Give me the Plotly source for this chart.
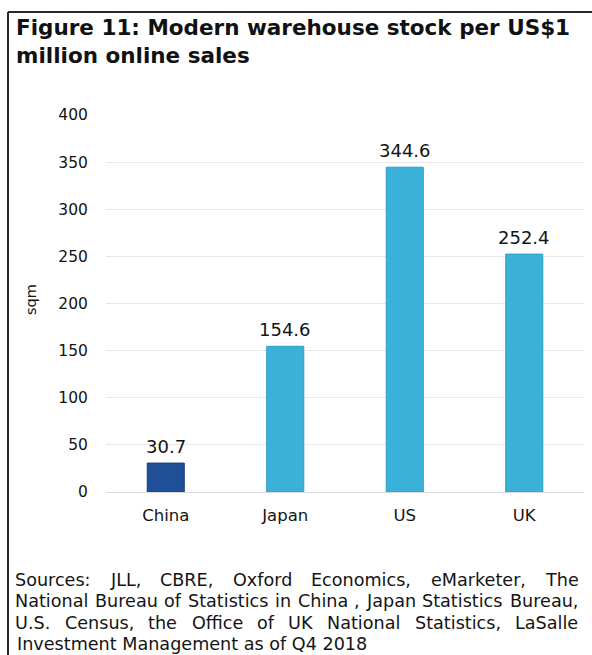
import plotly.graph_objects as go

# Chart data
countries = ["China", "Japan", "US", "UK"]
stock_sqm = [30.7, 154.6, 344.6, 252.4]
bar_colors = ["#1f4f97", "#3bb1da", "#3bb1da", "#3bb1da"]
edge_colors = ["#163f80", "#2a9dc9", "#2a9dc9", "#2a9dc9"]
y_ticks = [0, 50, 100, 150, 200, 250, 300, 350, 400]

title_lines = ["Figure 11: Modern warehouse stock per US$1", "million online sales"]
source_lines = [
    "Sources: JLL, CBRE, Oxford Economics, eMarketer, The",
    "National Bureau of Statistics in China , Japan Statistics Bureau,",
    "U.S. Census, the Office of UK National Statistics, LaSalle",
    "Investment Management as of Q4 2018",
]

FONT = "DejaVu Sans"
TXT = "#141414"
W, H = 592, 655
ML, MR, MT, MB = 106, 8, 115, 163
PW, PH = W - ML - MR, H - MT - MB


def px_x(p):
    return (p - ML) / PW


def px_y(p):
    return (H - MB - p) / PH


# DejaVu Sans advance widths (per 1000 em) used to justify the source note
ADV = {" ": 318, ",": 318, ".": 318, ":": 337}
ADV.update({d: 636 for d in "0123456789"})
ADV.update(dict(zip("ABCDEFGHIJKLMNOPQRSTUVWXYZ",
                    [684, 686, 698, 770, 632, 575, 775, 752, 295, 295, 656, 557, 863,
                     748, 787, 603, 787, 695, 635, 611, 732, 684, 989, 685, 611, 685])))
ADV.update(dict(zip("abcdefghijklmnopqrstuvwxyz",
                    [613, 635, 550, 635, 615, 352, 635, 634, 278, 278, 579, 278, 974,
                     634, 612, 635, 635, 411, 521, 392, 634, 592, 818, 592, 592, 525])))


def text_w(s, size):
    return sum(ADV.get(c, 600) for c in s) * size / 1000.0


fig = go.Figure()
fig.add_trace(go.Bar(
    x=countries, y=stock_sqm, width=0.31,
    marker=dict(color=bar_colors, line=dict(color=edge_colors, width=1)),
    hoverinfo="skip",
))

annotations = []
# value labels above bars
for c, v in zip(countries, stock_sqm):
    annotations.append(dict(
        x=c, y=v, xref="x", yref="y", text=f"{v:.1f}", showarrow=False,
        yanchor="bottom", xanchor="center", yshift=4,
        font=dict(family=FONT, size=18, color=TXT),
    ))

# y-axis title
annotations.append(dict(
    x=px_x(31), y=px_y(300), xref="paper", yref="paper", text="sqm",
    showarrow=False, textangle=-90, xanchor="center", yanchor="middle",
    font=dict(family=FONT, size=14.5, color=TXT),
))

# title
for i, line in enumerate(title_lines):
    annotations.append(dict(
        x=px_x(14), y=px_y(27 + 29 * i), xref="paper", yref="paper",
        text=f"<b>{line}</b>", showarrow=False, xanchor="left", yanchor="middle",
        font=dict(family=FONT, size=21.5, color="#111111"),
    ))

# justified source note
SRC_SIZE = 17.6
LEFT, RIGHT = 15, 578
for i, line in enumerate(source_lines):
    yc = px_y(580 + 21.3 * i)
    words = line.split(" ")
    last = i == len(source_lines) - 1
    if last:
        annotations.append(dict(
            x=px_x(LEFT), y=yc, xref="paper", yref="paper", text=line,
            showarrow=False, xanchor="left", yanchor="middle",
            font=dict(family=FONT, size=SRC_SIZE, color=TXT),
        ))
        continue
    widths = [text_w(w, SRC_SIZE) for w in words]
    gap = (RIGHT - LEFT - sum(widths)) / (len(words) - 1)
    pos = LEFT
    for w, ww in zip(words, widths):
        annotations.append(dict(
            x=px_x(pos + ww / 2), y=yc, xref="paper", yref="paper", text=w,
            showarrow=False, xanchor="center", yanchor="middle",
            font=dict(family=FONT, size=SRC_SIZE, color=TXT),
        ))
        pos += ww + gap

# frame lines at top and left
shapes = [
    dict(type="line", xref="paper", yref="paper", x0=px_x(8), x1=px_x(592),
         y0=px_y(12), y1=px_y(12), line=dict(color="#2a2a2a", width=2)),
    dict(type="line", xref="paper", yref="paper", x0=px_x(8), x1=px_x(8),
         y0=px_y(12), y1=px_y(655), line=dict(color="#2a2a2a", width=2)),
]

fig.update_layout(
    width=W, height=H,
    margin=dict(l=ML, r=MR, t=MT, b=MB, pad=0),
    paper_bgcolor="white", plot_bgcolor="white",
    showlegend=False,
    annotations=annotations, shapes=shapes,
    xaxis=dict(
        range=[-0.5, 3.5], showgrid=False, zeroline=False, showline=False,
        ticks="outside", ticklen=8, tickcolor="rgba(0,0,0,0)",
        tickfont=dict(family=FONT, size=16.5, color=TXT),
    ),
    yaxis=dict(
        range=[0, 400], tickvals=y_ticks, showgrid=True, gridcolor="#e8e8e8",
        gridwidth=1, zeroline=True, zerolinecolor="#dcdcdc", zerolinewidth=1,
        showline=False, ticks="outside", ticklen=14, tickcolor="rgba(0,0,0,0)",
        tickfont=dict(family=FONT, size=15.5, color=TXT),
    ),
)

fig.write_html("out.html")
